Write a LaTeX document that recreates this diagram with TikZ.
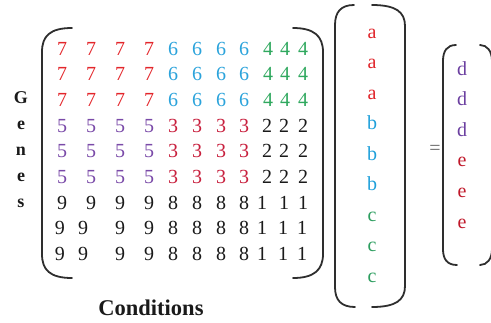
\documentclass[tikz,border=0pt]{standalone}
\usepackage{fontspec}
\setmainfont{Liberation Serif}
\definecolor{cseven}{HTML}{E3262B}
\definecolor{csix}{HTML}{2BA3DB}
\definecolor{cfour}{HTML}{2FA85E}
\definecolor{cfive}{HTML}{7A4AA8}
\definecolor{cthree}{HTML}{C8203E}
\definecolor{cdark}{HTML}{1A1A1A}
\definecolor{ca}{HTML}{E0242A}
\definecolor{cb}{HTML}{1FA0DA}
\definecolor{cc}{HTML}{2E9E60}
\definecolor{cd}{HTML}{6B3FA0}
\definecolor{ce}{HTML}{C0182A}
\begin{document}
\begin{tikzpicture}[x=1pt,y=-1pt,
  num/.style={font=\fontsize{20}{24}\selectfont, anchor=base, inner sep=0pt},
  axislbl/.style={font=\bfseries\fontsize{18}{20}\selectfont, anchor=base, inner sep=0pt, text=cdark},
  bracket/.style={line width=1.8pt, draw=black!82, line cap=round}]
\useasboundingbox (0,0) rectangle (491,322);

% --- gene x condition matrix ---
\foreach \r/\yb in {1/55,2/80.7,3/106.4}{
  \foreach \c/\xx in {1/62,2/91,3/120,4/149}
    \node[num,text=cseven] (m\r-\c) at (\xx,\yb) {7};
  \foreach \c/\xx in {5/173,6/197,7/221,8/244}
    \node[num,text=csix] (m\r-\c) at (\xx,\yb) {6};
  \foreach \c/\xx in {9/268,10/285,11/303}
    \node[num,text=cfour] (m\r-\c) at (\xx,\yb) {4};
}
\foreach \r/\yb in {4/132.1,5/157.8,6/183.5}{
  \foreach \c/\xx in {1/62,2/91,3/120,4/149}
    \node[num,text=cfive] (m\r-\c) at (\xx,\yb) {5};
  \foreach \c/\xx in {5/173,6/197,7/221,8/244}
    \node[num,text=cthree] (m\r-\c) at (\xx,\yb) {3};
  \foreach \c/\xx in {9/267,10/284,11/303}
    \node[num,text=cdark] (m\r-\c) at (\xx,\yb) {2};
}
\foreach \c/\xx in {1/62,2/91,3/120,4/149}
  \node[num,text=cdark] (m7-\c) at (\xx,209.2) {9};
\foreach \c/\xx in {5/173,6/197,7/221,8/244}
  \node[num,text=cdark] (m7-\c) at (\xx,209.2) {8};
\foreach \c/\xx in {9/262,10/284,11/303}
  \node[num,text=cdark] (m7-\c) at (\xx,209.2) {1};
\foreach \r/\yb in {8/234.9,9/260.6}{
  \foreach \c/\xx in {1/60,2/83,3/120,4/149}
    \node[num,text=cdark] (m\r-\c) at (\xx,\yb) {9};
  \foreach \c/\xx in {5/173,6/197,7/221,8/244}
    \node[num,text=cdark] (m\r-\c) at (\xx,\yb) {8};
  \foreach \c/\xx in {9/262,10/283,11/302}
    \node[num,text=cdark] (m\r-\c) at (\xx,\yb) {1};
}

% matrix brackets
\draw[bracket] (72,28) .. controls (50,28) and (42,36) .. (42,52) -- (42,254)
  .. controls (42,270) and (50,278) .. (72,278);
\draw[bracket] (293,28) .. controls (314,28) and (323,36) .. (323,52) -- (323,254)
  .. controls (323,270) and (314,278) .. (293,278);

% axis labels
\foreach \i/\ch/\yb in {1/G/103,2/e/129,3/n/155,4/e/181,5/s/207}
  \node[axislbl] (genes\i) at (21,\yb) {\ch};
\node[axislbl, font=\bfseries\fontsize{22.5}{26}\selectfont] (conditions) at (151,315) {Conditions};

% --- first column vector ---
\foreach \i/\ch/\col/\yb in {1/a/ca/38,2/a/ca/68.5,3/a/ca/99,
    4/b/cb/129.5,5/b/cb/160,6/b/cb/190.5,
    7/c/cc/221,8/c/cc/251.5,9/c/cc/282}
  \node[num,text=\col] (v\i) at (372,\yb) {\ch};
\draw[bracket] (354,5) .. controls (341,5) and (335,12) .. (335,25) -- (335,287)
  .. controls (335,300) and (341,307) .. (355,307);
\draw[bracket] (372,5) .. controls (396,5) and (405,12) .. (405,26) -- (405,286)
  .. controls (405,300) and (396,307) .. (372,307);

% equals sign
\node[num, anchor=center, text=black!60] (eq) at (435,150) {=};

% --- result vector ---
\foreach \i/\ch/\col/\yb in {1/d/cd/75,2/d/cd/105.6,3/d/cd/136.2,
    4/e/ce/166.8,5/e/ce/197.4,6/e/ce/228}
  \node[num,text=\col] (w\i) at (462,\yb) {\ch};
\draw[bracket] (456,45) .. controls (447,45) and (443,51) .. (443,61) -- (443,249)
  .. controls (443,259) and (447,265) .. (457,265);
\draw[bracket] (480,45) .. controls (487,45) and (492,51) .. (492,61) -- (492,249)
  .. controls (492,259) and (487,265) .. (480,265);
\end{tikzpicture}
\end{document}
